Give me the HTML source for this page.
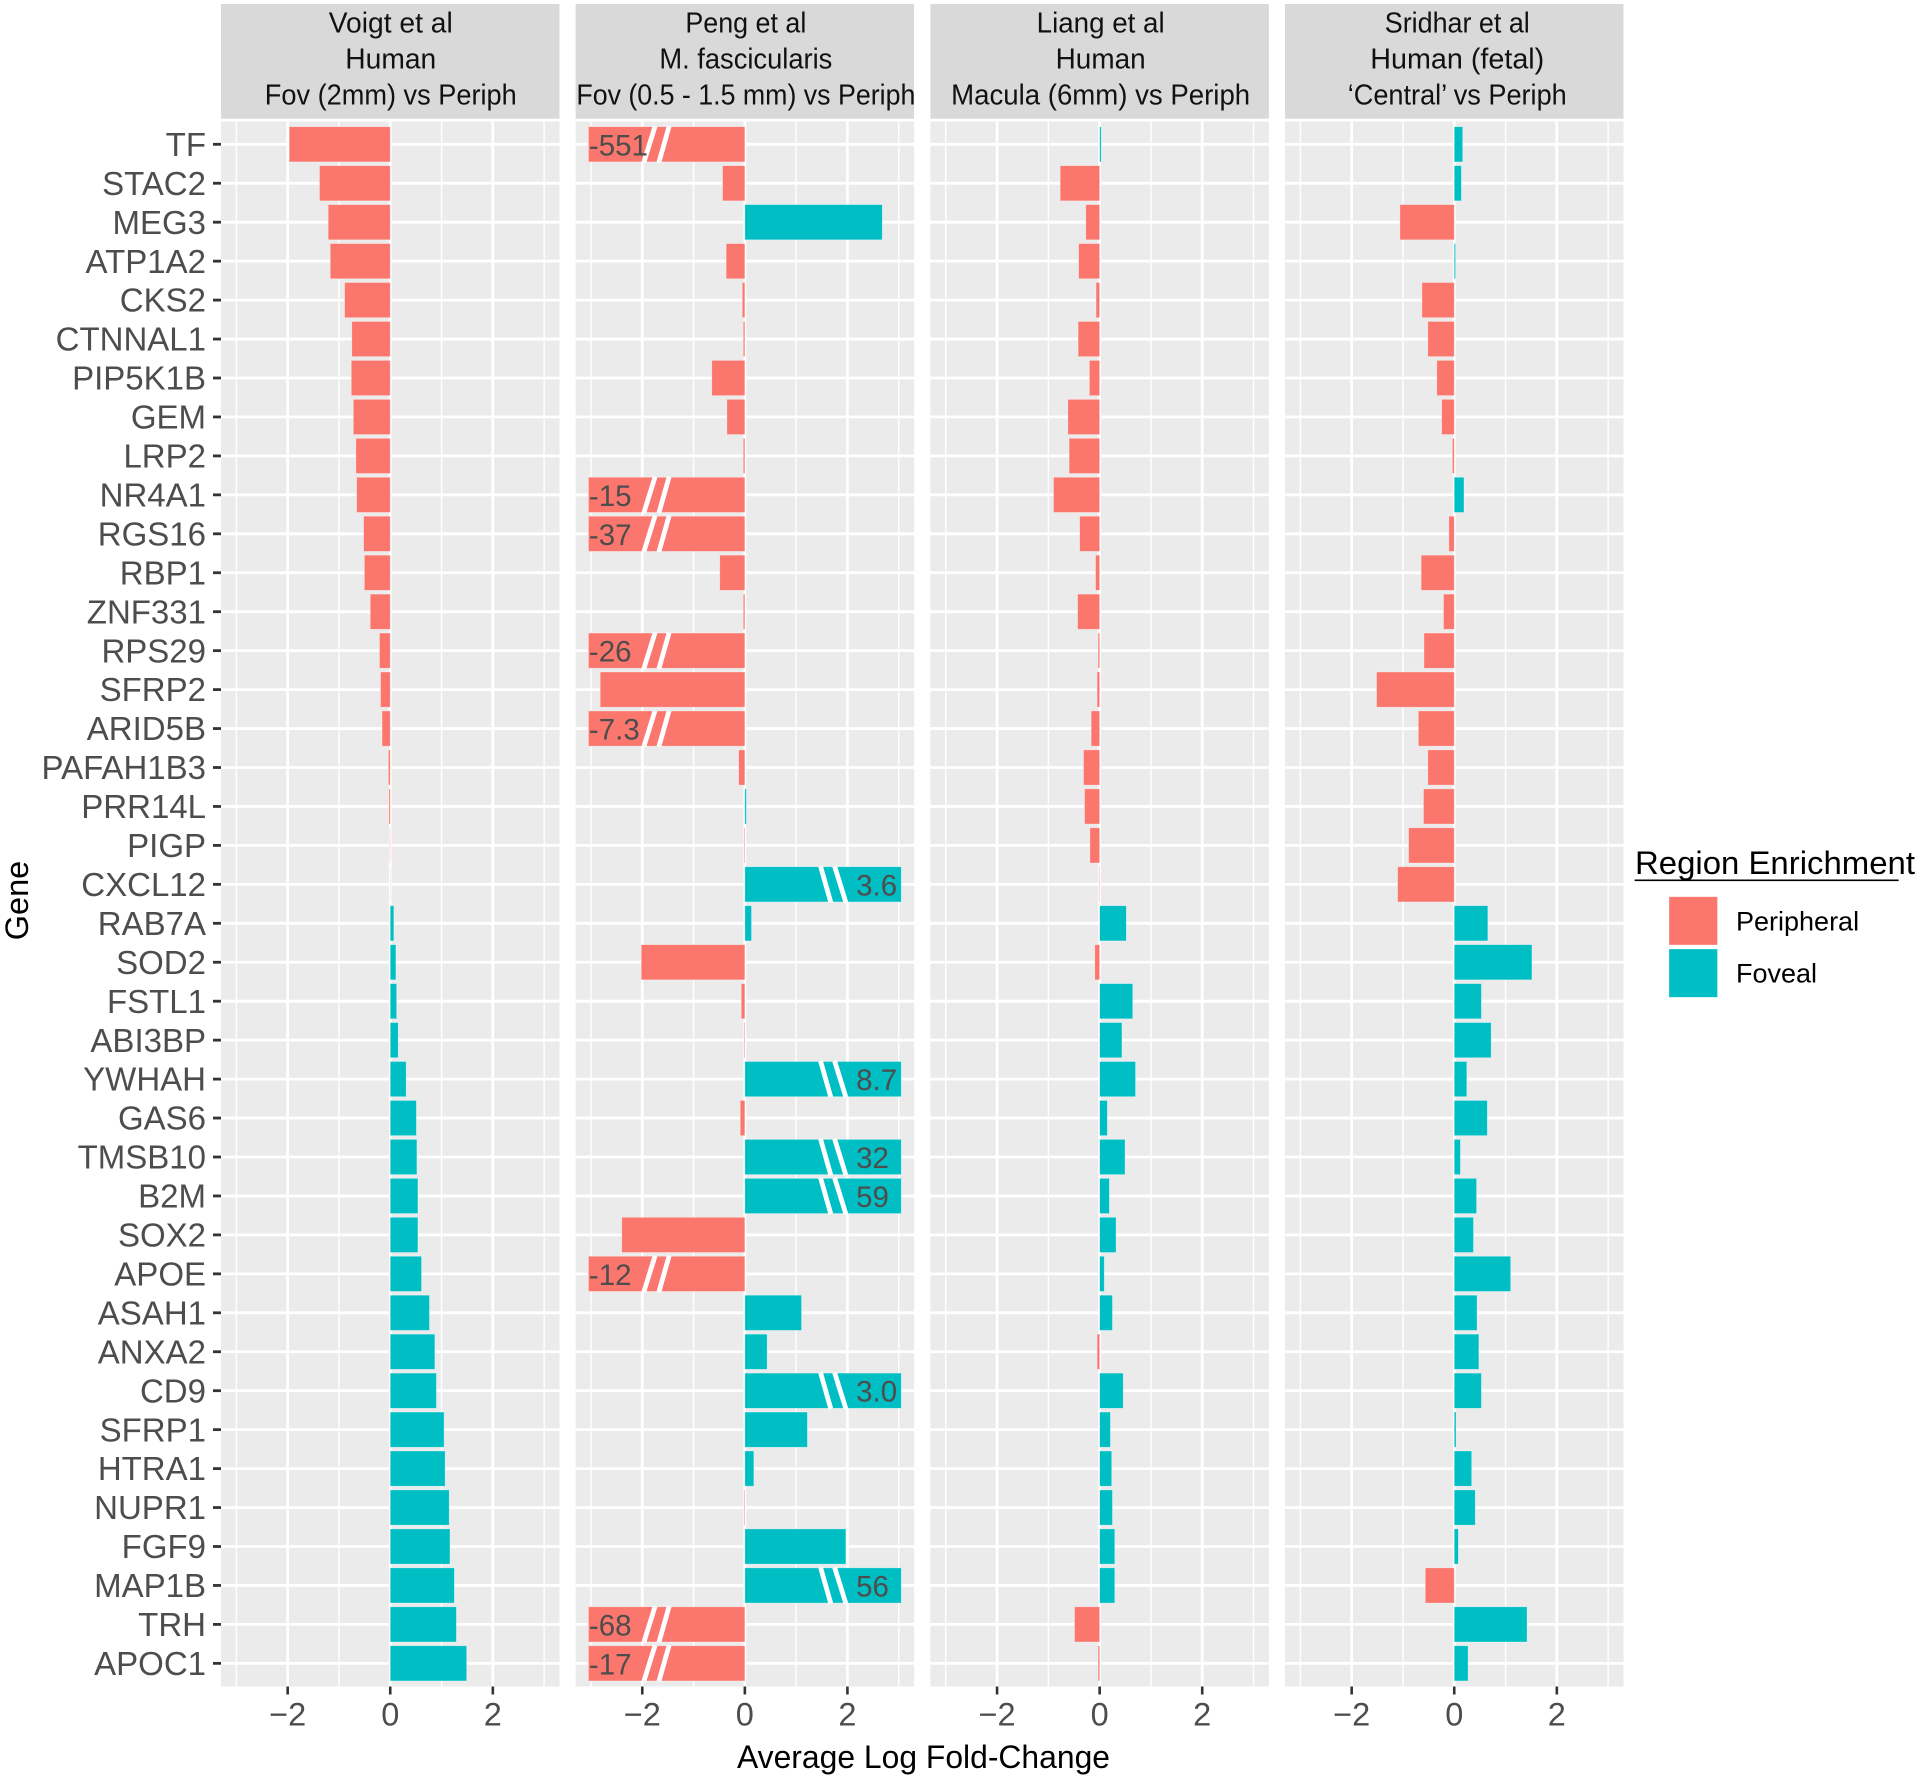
<!DOCTYPE html>
<html lang="en">
<head>
<meta charset="utf-8">
<title>Region enrichment of genes across studies</title>
<style>
html,body{margin:0;padding:0;background:#fff;}
svg{display:block;font-family:"Liberation Sans",Arial,sans-serif;}
</style>
</head>
<body>
<svg id="chart" width="1920" height="1779" viewBox="0 0 1920 1779" xmlns="http://www.w3.org/2000/svg"></svg>
<script>
const genes = ["TF","STAC2","MEG3","ATP1A2","CKS2","CTNNAL1","PIP5K1B","GEM","LRP2","NR4A1","RGS16","RBP1","ZNF331","RPS29","SFRP2","ARID5B","PAFAH1B3","PRR14L","PIGP","CXCL12","RAB7A","SOD2","FSTL1","ABI3BP","YWHAH","GAS6","TMSB10","B2M","SOX2","APOE","ASAH1","ANXA2","CD9","SFRP1","HTRA1","NUPR1","FGF9","MAP1B","TRH","APOC1"];
const voigtValues = [-1.97,-1.38,-1.21,-1.17,-0.89,-0.75,-0.76,-0.72,-0.67,-0.655,-0.52,-0.505,-0.39,-0.21,-0.19,-0.16,-0.035,-0.025,-0.01,-0.005,0.07,0.11,0.125,0.155,0.31,0.51,0.52,0.54,0.54,0.61,0.765,0.87,0.9,1.05,1.07,1.15,1.165,1.25,1.29,1.49];
const pengValues = [-551,-0.435,2.68,-0.365,-0.05,-0.03,-0.645,-0.35,-0.03,-15,-37,-0.49,-0.03,-26,-2.82,-7.3,-0.12,0.03,-0.015,3.6,0.13,-2.02,-0.07,-0.015,8.7,-0.09,32,59,-2.40,-12,1.105,0.435,3.0,1.22,0.175,-0.015,1.97,56,-68,-17];
const liangValues = [0.03,-0.77,-0.27,-0.41,-0.07,-0.42,-0.2,-0.62,-0.595,-0.9,-0.39,-0.08,-0.43,-0.03,-0.05,-0.165,-0.315,-0.295,-0.19,-0.01,0.52,-0.095,0.645,0.435,0.70,0.15,0.495,0.19,0.32,0.09,0.25,-0.05,0.46,0.21,0.235,0.25,0.295,0.295,-0.49,-0.03];
const sridharValues = [0.165,0.14,-1.06,0.025,-0.63,-0.515,-0.34,-0.245,-0.035,0.19,-0.105,-0.645,-0.21,-0.59,-1.515,-0.70,-0.515,-0.60,-0.89,-1.105,0.655,1.515,0.53,0.72,0.245,0.645,0.12,0.435,0.375,1.10,0.445,0.48,0.53,0.035,0.34,0.41,0.08,-0.565,1.42,0.27];
const tickValues = [-2,0,2];
const tickLabels = ["\u22122","0","2"];
const minorTickValues = [-3,-1,1,3];
const stripTitles = [
  ["Voigt et al","Human","Fov (2mm) vs Periph"],
  ["Peng et al","M. fascicularis","Fov (0.5 - 1.5 mm) vs Periph"],
  ["Liang et al","Human","Macula (6mm) vs Periph"],
  ["Sridhar et al","Human (fetal)","\u2018Central\u2019 vs Periph"]
];
const stripTextWidths = [[124,91,252],[121,173,339],[128,90,299],[145,174,219]];
const panelNames = ["voigt","peng","liang","sridhar"];
const panelSeries = [voigtValues,pengValues,liangValues,sridharValues];
const legendLabels = ["Peripheral","Foveal"];

const NS = "http://www.w3.org/2000/svg";
const svg = document.getElementById("chart");
const RED = "#FB766D", TEAL = "#00BFC4";
const panelLefts = [221, 575.6, 930.4, 1285];
const stripShift = [0.5, 1, 1, 3];
const panelW = 338.5, panelTop = 121.5, panelBottom = 1686.5;
const unit = panelW / 6.6;
const clipLimit = 3.05, breakMin = 3;
const firstRowY = 144.3, rowStep = 38.95, barH = 35.2;

function xScale(p, v){ return panelLefts[p] + panelW / 2 + v * unit; }
function yScale(i){ return firstRowY + i * rowStep; }
function make(tag, attrs, text){
  const el = document.createElementNS(NS, tag);
  for (const k in attrs) el.setAttribute(k, attrs[k]);
  if (text !== undefined) el.textContent = text;
  svg.appendChild(el);
  return el;
}
function fmt(v){
  const a = Math.abs(v);
  const s = a >= 10 ? String(Math.round(a)) : a.toFixed(1);
  return (v < 0 ? "-" : "") + s;
}

panelSeries.forEach(function(values, p){
  const name = panelNames[p];
  const left = panelLefts[p];

  const strip = make("rect", {x:left, y:4, width:panelW, height:114.7, fill:"#d9d9d9"});
  
  

  stripTitles[p].forEach(function(line, l){
    const t = make("text", {x:xScale(p,0) + stripShift[p], y:32.7 + l*36, "text-anchor":"middle", "font-size":29, fill:"#111", textLength:stripTextWidths[p][l], lengthAdjust:"spacingAndGlyphs"}, line);
    
    
  });

  const bg = make("rect", {x:left, y:panelTop, width:panelW, height:panelBottom-panelTop, fill:"#ebebeb"});
  
  

  minorTickValues.forEach(function(v){
    const g = make("line", {x1:xScale(p,v), x2:xScale(p,v), y1:panelTop, y2:panelBottom, stroke:"#fff", "stroke-width":1.4});
    
    
  });
  tickValues.forEach(function(v){
    const g = make("line", {x1:xScale(p,v), x2:xScale(p,v), y1:panelTop, y2:panelBottom, stroke:"#fff", "stroke-width":2.7});
    
    
  });
  genes.forEach(function(g0, i){
    const g = make("line", {x1:left, x2:left+panelW, y1:yScale(i), y2:yScale(i), stroke:"#fff", "stroke-width":2.8});
    
    
  });

  values.forEach(function(v, i){
    const broken = p === 1 && Math.abs(v) >= breakMin;
    const shown = broken ? (v < 0 ? -clipLimit : clipLimit) : Math.max(-clipLimit, Math.min(clipLimit, v));
    const x0 = xScale(p, 0), x1 = xScale(p, shown);
    const y = yScale(i) - barH/2;
    const bar = make("rect", {x:Math.min(x0,x1), y:y, width:Math.abs(x1-x0), height:barH, fill:v<0?RED:TEAL, stroke:"#fff", "stroke-opacity":0.45, "stroke-width":0.7});
    
    

    if (broken) {
      const sign = v < 0 ? -1 : 1;
      [[1.476,1.676],[1.75,1.97]].forEach(function(b){
        const s = make("line", {x1:xScale(p,sign*b[0]), y1:y-0.5, x2:xScale(p,sign*b[1]), y2:y+barH+0.5, stroke:"#fff", "stroke-width":4.8});
        
        
      });
      const lx = v < 0 ? xScale(p,-clipLimit) + 0.5 : xScale(p,2.17);
      const lab = make("text", {x:lx, y:yScale(i)+11, "font-size":29.5, fill:"#4d4d4d"}, fmt(v));
      
      
    }
  });

  tickValues.forEach(function(v, k){
    const tick = make("line", {x1:xScale(p,v), x2:xScale(p,v), y1:panelBottom, y2:panelBottom+8, stroke:"#333", "stroke-width":2.6});
    
    
    const lab = make("text", {x:xScale(p,v), y:1725.7, "text-anchor":"middle", "font-size":32.5, fill:"#4d4d4d"}, tickLabels[k]);
    
    
  });
});

genes.forEach(function(gene, i){
  const tick = make("line", {x1:213, x2:221, y1:yScale(i), y2:yScale(i), stroke:"#333", "stroke-width":2.8});
  
  
  const lab = make("text", {x:206, y:yScale(i)+11.6, "text-anchor":"end", "font-size":33, fill:"#4d4d4d"}, gene);
  
  
});

const xTitle = make("text", {x:923.5, y:1768, "text-anchor":"middle", "font-size":32.5, fill:"#000", textLength:373, lengthAdjust:"spacingAndGlyphs"}, "Average Log Fold-Change");



const yTitle = make("text", {x:0, y:0, transform:"translate(28 900.5) rotate(-90)", "text-anchor":"middle", "font-size":32.5, fill:"#000"}, "Gene");



const legTitle = make("text", {x:1635, y:874, "font-size":32.5, fill:"#000", textLength:280, lengthAdjust:"spacingAndGlyphs"}, "Region Enrichment");


const legRule = make("rect", {x:1634.6, y:879.5, width:264, height:1.6, fill:"#000"});



legendLabels.forEach(function(label, k){
  const key = make("rect", {x:1669, y:896.7 + k*52.3, width:48.5, height:48.3, fill:k===0?RED:TEAL, stroke:"#fff", "stroke-opacity":0.45, "stroke-width":0.7});
  
  
  const t = make("text", {x:1736, y:930.7 + k*52, "font-size":27, fill:"#000"}, label);
  
  
});
</script>
</body>
</html>
